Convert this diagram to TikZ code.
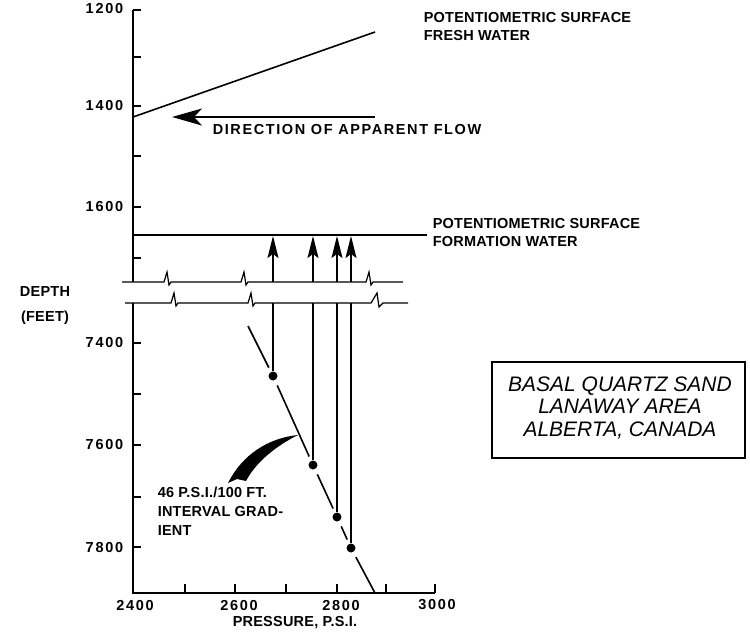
\documentclass[tikz,border=0pt]{standalone}
\usepackage{fontspec}
\setmainfont{Liberation Sans}
\newfontfamily\labfont[LetterSpace=1.5]{Liberation Sans Bold}
\newfontfamily\widefont[LetterSpace=11]{Liberation Sans Bold}
\newfontfamily\numfont[LetterSpace=12]{Liberation Sans Bold}
\usetikzlibrary{arrows.meta}
\begin{document}
\begin{tikzpicture}[x=1pt,y=-1pt,line width=1.6pt,
  lab/.style={font=\labfont\fontsize{14.5}{18}\selectfont,inner sep=0pt},
  numlab/.style={font=\numfont\fontsize{14.5}{18}\selectfont,inner sep=0pt},
  widelab/.style={font=\widefont\fontsize{14.5}{18}\selectfont,inner sep=0pt},
  titlelab/.style={font=\itshape\fontsize{21}{22.5}\selectfont,inner sep=0pt,align=center},
  dotnode/.style={circle,fill,inner sep=0pt,minimum size=9pt},
  uparrow/.style={-{Stealth[length=22pt,width=11pt,inset=4pt]}},
  flowarrow/.style={-{Stealth[length=30pt,width=17pt,inset=8pt]}},
  tick/.style={line width=1.3pt}]
\useasboundingbox (0,0) rectangle (750,638);

% ---------- axes ----------
\draw (133,10) -- (133,282);
\draw (133,303) -- (133,593) -- (435,593);
\foreach \y in {10,57,106,156,207,258} \draw[tick] (133,\y) -- (141,\y);
\foreach \y in {343,394,445,497,547} \draw[tick] (133,\y) -- (141,\y);
\foreach \x in {185,235,286,337,386,435} \draw[tick] (\x,593) -- (\x,584);

% y labels
\node[numlab,anchor=east] (y1200) at (124,9) {1200};
\node[numlab,anchor=east] (y1400) at (124,106) {1400};
\node[numlab,anchor=east] (y1600) at (124,207) {1600};
\node[numlab,anchor=east] (y7400) at (124,343) {7400};
\node[numlab,anchor=east] (y7600) at (124,445) {7600};
\node[numlab,anchor=east] (y7800) at (124,547) {7800};
\node[lab] (depth) at (45,292) {DEPTH};
\node[lab] (feet) at (45,318) {(FEET)};

% x labels
\node[numlab] (x2400) at (135,605) {2400};
\node[numlab] (x2600) at (239,605) {2600};
\node[numlab] (x2800) at (341,605) {2800};
\node[numlab] (x3000) at (437,605) {3000};
\node[lab] (pressure) at (295,623) {PRESSURE, P.S.I.};

% ---------- break lines ----------
\draw[line width=1.2pt] (122,282) -- (164,282) -- ++(3,-10) -- ++(2,13) -- ++(2,-3)
  -- (241,282) -- ++(3,-10) -- ++(2,13) -- ++(2,-3)
  -- (366,282) -- ++(3,-10) -- ++(2,13) -- ++(2,-3) -- (403,282);
\draw[line width=1.2pt] (125,303) -- (171,303) -- ++(3,-10) -- ++(2,13) -- ++(2,-3)
  -- (248,303) -- ++(3,-10) -- ++(2,13) -- ++(2,-3)
  -- (371,303) -- ++(6,-10) -- ++(2,14) -- ++(4,-4) -- (408,303);

% ---------- fresh water surface ----------
\coordinate (fw1) at (133,117);
\coordinate (fw2) at (375,32);
\draw (fw1) -- (fw2);
\node[lab,anchor=north west,align=left] (fwlab) at (423,12) {POTENTIOMETRIC SURFACE\\FRESH WATER};

\coordinate (fl1) at (375,117);
\coordinate (fl2) at (172,117);
\draw[flowarrow] (fl1) -- (fl2);
\node[widelab,anchor=west] (flowlab) at (212,130) {DIRECTION OF APPARENT FLOW};

% ---------- formation water surface ----------
\coordinate (fm1) at (133,235);
\coordinate (fm2) at (427,235);
\draw (fm1) -- (fm2);
\node[lab,anchor=north west,align=left] (fmlab) at (432,218) {POTENTIOMETRIC SURFACE\\FORMATION WATER};

% ---------- data points and arrows ----------
\node[dotnode] (d1) at (273,376) {};
\node[dotnode] (d2) at (313,465) {};
\node[dotnode] (d3) at (337,517) {};
\node[dotnode] (d4) at (351,548) {};

\foreach \i/\x in {1/273,2/313,3/337,4/351}{
  \coordinate (ub\i) at (\x,282);
  \coordinate (ut\i) at (\x,236);
  \coordinate (lb\i) at (\x,303);
  \draw[uparrow] (ub\i) -- (ut\i);
  \draw (lb\i) -- (d\i);
}

% gradient line
\coordinate (g0) at (248,326);
\coordinate (g5) at (375,593);
\draw[shorten >=4pt] (g0) -- (d1);
\draw[shorten <=5pt,shorten >=4pt] (d1) -- (d2);
\draw[shorten <=5pt,shorten >=4pt] (d2) -- (d3);
\draw[shorten <=5pt,shorten >=4pt] (d3) -- (d4);
\draw[shorten <=5pt] (d4) -- (g5);

% pointer
\coordinate (ptip) at (298,435);
\fill (ptip) .. controls (268,438) and (242,455) .. (228,483) -- (237,479) -- (246,481)
  .. controls (256,462) and (276,446) .. (ptip);

\node[lab,anchor=north west,align=left,font=\labfont\fontsize{14.5}{19}\selectfont] (gradlab) at (157,486)
  {46 P.S.I./100 FT.\\INTERVAL GRAD-\\IENT};

% ---------- title box ----------
\node[draw,line width=2.2pt,minimum width=253pt,minimum height=96pt,inner sep=0pt] (box) at (618.5,410) {};
\node[titlelab] (title) at (620,408) {BASAL QUARTZ SAND\\LANAWAY AREA\\ALBERTA, CANADA};
\end{tikzpicture}
\end{document}
